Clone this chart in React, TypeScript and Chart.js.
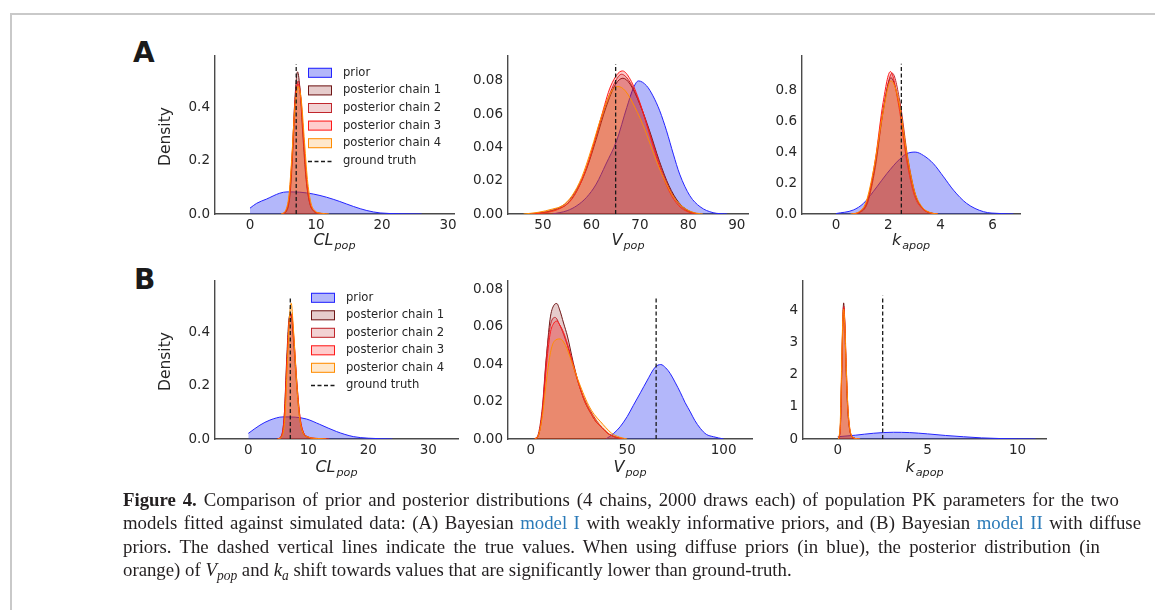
import React, { useEffect, useRef } from "react";
import { Chart, registerables } from "chart.js";
Chart.register(...registerables);

// ---------- labels / styles ----------
const SERIES_LABELS = ["prior", "posterior chain 1", "posterior chain 2", "posterior chain 3", "posterior chain 4", "ground truth"];
const LINE_COLORS = ["#2424ff", "#6e1616", "#c0262c", "#ff1a1a", "#ff8c00"];
const FILL_COLORS = ["rgba(45,55,240,0.36)", "rgba(128,0,0,0.2)", "rgba(190,30,35,0.2)", "rgba(255,0,0,0.2)", "rgba(255,140,0,0.2)"];

// ---------- tick labels ----------
const A_CL_XTICKS = [0, 10, 20, 30];
const A_CL_YTICKS = [0, 0.2, 0.4];
const A_V_XTICKS = [50, 60, 70, 80, 90];
const A_V_YTICKS = [0, 0.02, 0.04, 0.06, 0.08];
const A_KA_XTICKS = [0, 2, 4, 6];
const A_KA_YTICKS = [0, 0.2, 0.4, 0.6, 0.8];
const B_CL_XTICKS = [0, 10, 20, 30];
const B_CL_YTICKS = [0, 0.2, 0.4];
const B_V_XTICKS = [0, 50, 100];
const B_V_YTICKS = [0, 0.02, 0.04, 0.06, 0.08];
const B_KA_XTICKS = [0, 5, 10];
const B_KA_YTICKS = [0, 1, 2, 3, 4];

// ---------- ground truth ----------
const GROUND_TRUTH = { CL: 7.0, V: 65.0, KA: 2.5 };
const GT_TOP_A = { CL: 0.563, V: 0.0901, KA: 0.97 };
const GT_TOP_B = { CL: 0.536, V: 0.0764, KA: 4.47 };

// ---------- (A) model I, densities [x, density] ----------
const A_CL_prior = [[0, 0.022], [1, 0.04], [2.5, 0.056], [4.5, 0.078], [5.6, 0.083], [7.5, 0.082], [9.6, 0.075], [11.6, 0.063], [13.6, 0.047], [15.7, 0.028], [17.7, 0.013], [19.7, 0.004], [22.7, 0.001], [26, 0]];
const A_CL_chain1 = [[4.8, 0], [5.5, 0.012], [6.0, 0.07], [6.4, 0.22], [6.8, 0.43], [7.2, 0.534], [7.6, 0.46], [8.0, 0.3], [8.5, 0.13], [9.0, 0.045], [9.6, 0.012], [10.5, 0.003], [11.5, 0]];
const A_CL_chain2 = [[4.9, 0], [5.6, 0.013], [6.1, 0.08], [6.5, 0.24], [6.9, 0.43], [7.3, 0.5], [7.7, 0.44], [8.1, 0.29], [8.6, 0.12], [9.1, 0.04], [9.7, 0.01], [10.6, 0.002], [11.6, 0]];
const A_CL_chain3 = [[4.8, 0], [5.5, 0.015], [6.0, 0.08], [6.4, 0.23], [6.8, 0.42], [7.25, 0.49], [7.7, 0.43], [8.1, 0.29], [8.6, 0.12], [9.1, 0.04], [9.7, 0.012], [10.6, 0.002], [11.7, 0]];
const A_CL_chain4 = [[4.7, 0], [5.4, 0.014], [5.9, 0.07], [6.3, 0.2], [6.8, 0.4], [7.3, 0.48], [7.8, 0.42], [8.2, 0.29], [8.7, 0.13], [9.2, 0.045], [9.8, 0.013], [10.8, 0.003], [12, 0]];

const A_V_prior = [[52, 0], [55, 0.002], [57, 0.005], [59, 0.01], [61, 0.018], [63, 0.03], [65.2, 0.044], [67.3, 0.064], [68.7, 0.076], [69.7, 0.08], [71.4, 0.077], [72.7, 0.071], [74.1, 0.062], [75.5, 0.05], [76.9, 0.036], [78.2, 0.024], [80.3, 0.011], [82.4, 0.0044], [85.1, 0.0008], [88, 0]];
const A_V_chain1 = [[47, 0], [50, 0.0008], [53, 0.003], [55, 0.006], [57, 0.014], [59, 0.027], [61, 0.045], [63, 0.064], [65, 0.078], [66.5, 0.0816], [68, 0.078], [70, 0.066], [72, 0.05], [74, 0.032], [76, 0.017], [78, 0.007], [80, 0.002], [82, 0]];
const A_V_chain2 = [[47, 0], [50, 0.001], [53, 0.0035], [55, 0.007], [57, 0.015], [59, 0.028], [61, 0.047], [63, 0.066], [65, 0.08], [66.2, 0.084], [68, 0.079], [70, 0.066], [72, 0.049], [74, 0.031], [76, 0.016], [78, 0.006], [80, 0.0015], [82, 0]];
const A_V_chain3 = [[48, 0], [51, 0.001], [54, 0.004], [56, 0.009], [58, 0.02], [60, 0.037], [62, 0.058], [64, 0.077], [66.4, 0.086], [68, 0.081], [70, 0.067], [72, 0.048], [74, 0.029], [76, 0.014], [78, 0.005], [80, 0.0012], [82, 0]];
const A_V_chain4 = [[46, 0], [49, 0.001], [52, 0.003], [54, 0.005], [56, 0.011], [58, 0.022], [60, 0.039], [62, 0.058], [64, 0.073], [65.5, 0.0766], [67, 0.074], [69, 0.064], [71, 0.051], [73, 0.035], [75, 0.021], [77, 0.01], [79, 0.004], [81, 0.001], [83, 0]];

const A_KA_prior = [[0, 0.003], [0.66, 0.026], [1.05, 0.069], [1.56, 0.175], [1.94, 0.26], [2.45, 0.357], [2.71, 0.39], [3.03, 0.4], [3.35, 0.378], [3.73, 0.325], [4.12, 0.24], [4.5, 0.154], [5.0, 0.069], [5.65, 0.015], [6.3, 0.003], [6.8, 0]];
const A_KA_chain1 = [[0.6, 0], [0.9, 0.012], [1.2, 0.08], [1.5, 0.32], [1.8, 0.67], [2.1, 0.88], [2.4, 0.72], [2.7, 0.38], [3.0, 0.14], [3.3, 0.04], [3.6, 0.008], [3.9, 0]];
const A_KA_chain2 = [[0.6, 0], [0.9, 0.01], [1.2, 0.07], [1.5, 0.3], [1.8, 0.66], [2.15, 0.91], [2.45, 0.72], [2.75, 0.36], [3.05, 0.12], [3.35, 0.03], [3.65, 0.006], [3.9, 0]];
const A_KA_chain3 = [[0.6, 0], [0.9, 0.014], [1.2, 0.09], [1.5, 0.35], [1.8, 0.72], [2.08, 0.92], [2.4, 0.7], [2.7, 0.35], [3.0, 0.12], [3.3, 0.035], [3.6, 0.007], [3.9, 0]];
const A_KA_chain4 = [[0.55, 0], [0.85, 0.012], [1.15, 0.08], [1.45, 0.3], [1.8, 0.66], [2.1, 0.86], [2.4, 0.73], [2.7, 0.4], [3.0, 0.15], [3.3, 0.045], [3.6, 0.01], [3.9, 0]];

// ---------- (B) model II ----------
const B_CL_prior = [[0, 0.021], [1.94, 0.052], [3.6, 0.071], [5.8, 0.083], [7.8, 0.082], [9.7, 0.075], [11.9, 0.055], [14.7, 0.028], [17.5, 0.009], [20, 0.003], [24, 0]];
const B_CL_chain1 = [[4.8, 0], [5.5, 0.01], [6.0, 0.09], [6.4, 0.3], [6.8, 0.455], [7.1, 0.47], [7.5, 0.38], [8.0, 0.22], [8.5, 0.09], [9.0, 0.03], [10, 0.006], [11, 0.002], [13, 0]];
const B_CL_chain2 = [[4.9, 0], [5.6, 0.012], [6.1, 0.1], [6.5, 0.31], [6.9, 0.46], [7.2, 0.465], [7.6, 0.37], [8.1, 0.21], [8.6, 0.085], [9.1, 0.03], [10, 0.007], [11, 0.002], [13, 0]];
const B_CL_chain3 = [[4.8, 0], [5.5, 0.012], [6.0, 0.09], [6.45, 0.3], [6.85, 0.45], [7.2, 0.47], [7.6, 0.38], [8.1, 0.21], [8.6, 0.085], [9.1, 0.03], [10, 0.008], [11.5, 0.002], [13.5, 0]];
const B_CL_chain4 = [[4.9, 0], [5.6, 0.01], [6.1, 0.08], [6.5, 0.28], [6.9, 0.47], [7.15, 0.51], [7.5, 0.42], [8.0, 0.23], [8.5, 0.09], [9.0, 0.03], [10, 0.007], [11.5, 0.002], [13, 0]];

const B_V_prior = [[39, 0], [43, 0.003], [46.3, 0.0065], [50, 0.012], [53.2, 0.018], [57, 0.025], [60.2, 0.031], [64.5, 0.0384], [67.4, 0.0398], [70, 0.038], [72.3, 0.035], [75, 0.03], [77.5, 0.025], [80, 0.0195], [82.7, 0.0145], [85, 0.01], [87.9, 0.0057], [91, 0.0025], [94.8, 0.0012], [100, 0]];
const B_V_chain1 = [[2, 0], [4, 0.002], [6, 0.015], [8, 0.042], [10, 0.064], [12, 0.0715], [13.5, 0.0724], [15, 0.069], [17, 0.062], [19, 0.055], [22, 0.041], [25, 0.029], [28, 0.02], [31, 0.014], [34, 0.009], [37, 0.006], [40, 0.003], [44, 0.001], [48, 0]];
const B_V_chain2 = [[2, 0], [4, 0.003], [6, 0.017], [8, 0.043], [10, 0.06], [12.6, 0.065], [15, 0.061], [17, 0.056], [19, 0.05], [22, 0.039], [25, 0.029], [28, 0.021], [31, 0.015], [34, 0.01], [37, 0.006], [40, 0.003], [44, 0.001], [48, 0]];
const B_V_chain3 = [[2, 0], [4, 0.002], [6, 0.014], [8, 0.038], [10, 0.056], [12, 0.062], [13.5, 0.063], [15, 0.061], [17, 0.057], [19, 0.051], [22, 0.04], [25, 0.029], [28, 0.02], [31, 0.014], [34, 0.009], [37, 0.006], [40, 0.003], [44, 0.001], [48, 0]];
const B_V_chain4 = [[2, 0], [4, 0.002], [6, 0.012], [8, 0.03], [10, 0.045], [12, 0.052], [15.2, 0.0535], [18, 0.05], [21, 0.042], [24, 0.033], [27, 0.025], [30, 0.018], [33, 0.013], [36, 0.0095], [39, 0.006], [42, 0.003], [46, 0.001], [50, 0]];

const B_KA_prior = [[0, 0.07], [1, 0.12], [2, 0.18], [3.1, 0.21], [4, 0.2], [5, 0.16], [6, 0.11], [7, 0.07], [8, 0.035], [9, 0.015], [10, 0.005], [11, 0]];
const B_KA_chain1 = [[0.05, 0], [0.15, 0.4], [0.22, 2.0], [0.29, 3.8], [0.33, 4.25], [0.38, 3.8], [0.46, 2.3], [0.55, 1.0], [0.65, 0.35], [0.75, 0.1], [0.9, 0.03], [1.1, 0.005], [1.2, 0]];
const B_KA_chain2 = [[0.05, 0], [0.15, 0.45], [0.22, 2.1], [0.29, 3.85], [0.33, 4.15], [0.39, 3.6], [0.47, 2.2], [0.56, 0.95], [0.66, 0.32], [0.76, 0.1], [0.9, 0.03], [1.1, 0.005], [1.2, 0]];
const B_KA_chain3 = [[0.05, 0], [0.15, 0.42], [0.22, 2.0], [0.29, 3.7], [0.34, 4.1], [0.4, 3.6], [0.48, 2.2], [0.57, 0.95], [0.67, 0.32], [0.77, 0.1], [0.9, 0.03], [1.1, 0.005], [1.2, 0]];
const B_KA_chain4 = [[0.04, 0], [0.14, 0.5], [0.21, 2.1], [0.28, 3.7], [0.33, 4.05], [0.39, 3.6], [0.47, 2.3], [0.56, 1.05], [0.66, 0.38], [0.76, 0.12], [0.9, 0.035], [1.1, 0.006], [1.25, 0]];

// ---------- layout ----------
const YW = 70, PT = 12, PR = 26, XH = 52;
const FONT = '"DejaVu Sans", sans-serif';
const TICK_COLOR = "#262626";
const SPINE_COLOR = "#4a4a4a";

type PanelDef = {
  left: number; top: number; w: number; h: number;
  xMin: number; xMax: number; yMax: number;
  xTicks: number[]; yTicks: number[]; yDec: number;
  curves: number[][][]; gt: number; gtTop: number;
  title: [string, string]; titleDy: number;
  density?: boolean; legend?: { dx: number; dy: number; sp: number };
};

const PANELS: PanelDef[] = [
  { left: 215, top: 55, w: 239, h: 159, xMin: -5.3, xMax: 30.9, yMax: 0.593, xTicks: A_CL_XTICKS, yTicks: A_CL_YTICKS, yDec: 1,
    curves: [A_CL_prior, A_CL_chain1, A_CL_chain2, A_CL_chain3, A_CL_chain4], gt: GROUND_TRUTH.CL, gtTop: GT_TOP_A.CL,
    title: ["CL", "pop"], titleDy: 31, density: true, legend: { dx: 93, dy: 16.7, sp: 17.6 } },
  { left: 508, top: 55, w: 240, h: 159, xMin: 42.8, xMax: 92.3, yMax: 0.0949, xTicks: A_V_XTICKS, yTicks: A_V_YTICKS, yDec: 2,
    curves: [A_V_prior, A_V_chain1, A_V_chain2, A_V_chain3, A_V_chain4], gt: GROUND_TRUTH.V, gtTop: GT_TOP_A.V,
    title: ["V", "pop"], titleDy: 31 },
  { left: 802, top: 55, w: 218, h: 159, xMin: -1.31, xMax: 7.05, yMax: 1.02, xTicks: A_KA_XTICKS, yTicks: A_KA_YTICKS, yDec: 1,
    curves: [A_KA_prior, A_KA_chain1, A_KA_chain2, A_KA_chain3, A_KA_chain4], gt: GROUND_TRUTH.KA, gtTop: GT_TOP_A.KA,
    title: ["k", "apop"], titleDy: 31 },
  { left: 215, top: 280, w: 243, h: 159, xMin: -5.55, xMax: 34.95, yMax: 0.593, xTicks: B_CL_XTICKS, yTicks: B_CL_YTICKS, yDec: 1,
    curves: [B_CL_prior, B_CL_chain1, B_CL_chain2, B_CL_chain3, B_CL_chain4], gt: GROUND_TRUTH.CL, gtTop: GT_TOP_B.CL,
    title: ["CL", "pop"], titleDy: 33, density: true, legend: { dx: 96, dy: 16.7, sp: 17.5 } },
  { left: 508, top: 280, w: 244, h: 159, xMin: -11.8, xMax: 114.7, yMax: 0.0844, xTicks: B_V_XTICKS, yTicks: B_V_YTICKS, yDec: 2,
    curves: [B_V_prior, B_V_chain1, B_V_chain2, B_V_chain3, B_V_chain4], gt: GROUND_TRUTH.V, gtTop: GT_TOP_B.V,
    title: ["V", "pop"], titleDy: 33 },
  { left: 803, top: 280, w: 243, h: 159, xMin: -1.93, xMax: 11.58, yMax: 4.93, xTicks: B_KA_XTICKS, yTicks: B_KA_YTICKS, yDec: 0,
    curves: [B_KA_prior, B_KA_chain1, B_KA_chain2, B_KA_chain3, B_KA_chain4], gt: GROUND_TRUTH.KA, gtTop: GT_TOP_B.KA,
    title: ["k", "apop"], titleDy: 33 },
];

function drawOverlay(chart: any, p: PanelDef) {
  const { ctx, chartArea } = chart;
  ctx.save();
  // x axis title (math italic with subscript)
  const mainFont = `italic 16px ${FONT}`;
  const subFont = `italic 11.2px ${FONT}`;
  ctx.font = mainFont;
  const wMain = ctx.measureText(p.title[0]).width;
  ctx.font = subFont;
  const wSub = ctx.measureText(p.title[1]).width;
  const cx = (chartArea.left + chartArea.right) / 2;
  const base = chartArea.bottom + p.titleDy;
  const x0 = cx - (wMain + wSub + 1) / 2;
  ctx.fillStyle = TICK_COLOR;
  ctx.textAlign = "left";
  ctx.textBaseline = "alphabetic";
  ctx.font = mainFont;
  ctx.fillText(p.title[0], x0, base);
  ctx.font = subFont;
  ctx.fillText(p.title[1], x0 + wMain + 1, base + 3.5);

  if (p.density) {
    ctx.save();
    ctx.translate(chartArea.left - 49, (chartArea.top + chartArea.bottom) / 2 + 1.5);
    ctx.rotate(-Math.PI / 2);
    ctx.font = `15.5px ${FONT}`;
    ctx.textAlign = "center";
    ctx.textBaseline = "middle";
    ctx.fillText("Density", 0, 0);
    ctx.restore();
  }

  if (p.legend) {
    const lx = chartArea.left + p.legend.dx;
    const ly = chartArea.top + p.legend.dy;
    ctx.font = `11.6px ${FONT}`;
    ctx.textBaseline = "middle";
    ctx.textAlign = "left";
    for (let i = 0; i < SERIES_LABELS.length; i++) {
      const cy = ly + i * p.legend.sp;
      if (i < 5) {
        ctx.fillStyle = "#fff";
        ctx.fillRect(lx, cy - 5, 24, 10);
        ctx.fillStyle = FILL_COLORS[i];
        ctx.fillRect(lx, cy - 5, 24, 10);
        ctx.strokeStyle = LINE_COLORS[i];
        ctx.lineWidth = 1;
        ctx.strokeRect(lx + 0.5, cy - 4.5, 23, 9);
      } else {
        ctx.strokeStyle = "#1a1a1a";
        ctx.lineWidth = 1.3;
        ctx.setLineDash([4, 2.5]);
        ctx.beginPath();
        ctx.moveTo(lx, Math.round(cy) + 0.5);
        ctx.lineTo(lx + 24, Math.round(cy) + 0.5);
        ctx.stroke();
        ctx.setLineDash([]);
      }
      ctx.fillStyle = TICK_COLOR;
      ctx.fillText(SERIES_LABELS[i], lx + 35, cy);
    }
  }
  ctx.restore();
}

function Panel({ p }: { p: PanelDef }) {
  const ref = useRef<HTMLCanvasElement>(null);
  const W = YW + p.w + PR;
  const H = PT + p.h + XH;
  useEffect(() => {
    const toXY = (pts: number[][]) => pts.map(([x, y]) => ({ x, y }));
    const datasets: any[] = p.curves.map((pts, i) => ({
      label: SERIES_LABELS[i],
      data: toXY(pts),
      borderColor: LINE_COLORS[i],
      backgroundColor: FILL_COLORS[i],
      borderWidth: 1,
      fill: "origin",
      pointRadius: 0,
      cubicInterpolationMode: "monotone",
      order: 10 - i,
    }));
    datasets.push({
      label: SERIES_LABELS[5],
      data: [{ x: p.gt, y: 0 }, { x: p.gt, y: p.gtTop }],
      borderColor: "#1a1a1a",
      borderDash: [4, 2.5],
      borderWidth: 1.3,
      pointRadius: 0,
      fill: false,
      order: 0,
    });
    const tickFont = { family: FONT, size: 13.5 };
    const chart = new Chart(ref.current as HTMLCanvasElement, {
      type: "line",
      data: { datasets },
      plugins: [{ id: "overlay", afterDraw: (c: any) => drawOverlay(c, p) }],
      options: {
        animation: false,
        responsive: false,
        devicePixelRatio: 1,
        layout: { padding: { top: PT, right: PR, left: 0, bottom: 0 } },
        plugins: { legend: { display: false }, tooltip: { enabled: false } },
        scales: {
          x: {
            type: "linear",
            min: p.xMin,
            max: p.xMax,
            grid: { display: false, drawTicks: false },
            border: { display: true, color: SPINE_COLOR, width: 1.4 },
            afterBuildTicks: (s: any) => { s.ticks = p.xTicks.map((v) => ({ value: v })); },
            afterFit: (s: any) => { s.height = XH; },
            ticks: { font: tickFont, color: TICK_COLOR, padding: 3.5, autoSkip: false, maxRotation: 0, callback: (v: any) => String(v) },
          },
          y: {
            type: "linear",
            min: 0,
            max: p.yMax,
            grid: { display: false, drawTicks: false },
            border: { display: true, color: SPINE_COLOR, width: 1.4 },
            afterBuildTicks: (s: any) => { s.ticks = p.yTicks.map((v) => ({ value: v })); },
            afterFit: (s: any) => { s.width = YW; },
            ticks: { font: tickFont, color: TICK_COLOR, padding: 5, autoSkip: false, callback: (v: any) => Number(v).toFixed(p.yDec) },
          },
        },
      } as any,
    });
    return () => chart.destroy();
  }, []);
  return (
    <canvas
      ref={ref}
      width={W}
      height={H}
      style={{ position: "absolute", left: p.left - YW, top: p.top - PT, width: W, height: H }}
    />
  );
}

const sub = (t: string) => (
  <span style={{ fontSize: "0.72em", verticalAlign: "-0.28em", fontStyle: "italic", lineHeight: 0 }}>{t}</span>
);
const LINK = "#2a7ab8";
const LINE_STYLE: React.CSSProperties = { whiteSpace: "nowrap", textAlign: "justify", textAlignLast: "justify" };

export default function App() {
  return (
    <div style={{ position: "fixed", left: 0, top: 0, width: 1155, height: 610, overflow: "hidden", background: "#fff" }}>
      <div style={{ position: "absolute", left: 10, top: 13, width: 1300, height: 800, borderLeft: "2px solid #c9c9c9", borderTop: "2px solid #c9c9c9" }} />
      <div style={{ position: "absolute", left: 133, top: 39.4, font: `bold 28px ${FONT}`, lineHeight: "28px", color: "#1a1a1a" }}>A</div>
      <div style={{ position: "absolute", left: 134, top: 265.5, font: `bold 28px ${FONT}`, lineHeight: "28px", color: "#1a1a1a" }}>B</div>
      {PANELS.map((p, i) => <Panel key={i} p={p} />)}
      <div style={{ position: "absolute", left: 123, top: 488, font: '18.8px "Liberation Serif", serif', lineHeight: "23.4px", color: "#231f20" }}>
        <div style={{ ...LINE_STYLE, width: 996 }}>
          <b>Figure 4.</b> Comparison of prior and posterior distributions (4 chains, 2000 draws each) of population PK parameters for the two
        </div>
        <div style={{ ...LINE_STYLE, width: 1018 }}>
          models fitted against simulated data: (A) Bayesian <span style={{ color: LINK }}>model I</span> with weakly informative priors, and (B) Bayesian <span style={{ color: LINK }}>model II</span> with diffuse
        </div>
        <div style={{ ...LINE_STYLE, width: 977 }}>
          priors. The dashed vertical lines indicate the true values. When using diffuse priors (in blue), the posterior distribution (in
        </div>
        <div style={{ whiteSpace: "nowrap" }}>
          orange) of <i>V</i>{sub("pop")} and <i>k</i>{sub("a")} shift towards values that are significantly lower than ground-truth.
        </div>
      </div>
    </div>
  );
}
